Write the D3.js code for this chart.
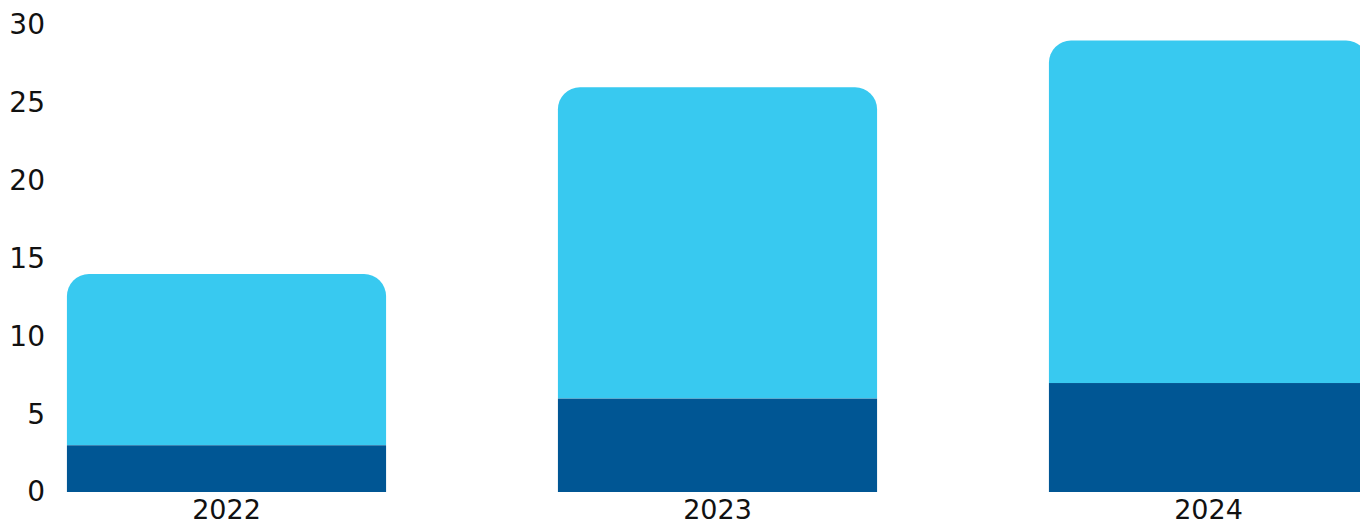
<!DOCTYPE html>
<html>
<head>
<meta charset="utf-8">
<script src="https://cdn.jsdelivr.net/npm/d3@7"></script>
<style>
  body { margin: 0; background: #fff; overflow: hidden; }
</style>
</head>
<body>
<div id="chart"></div>
<script>
// data
var years = ['2022', '2023', '2024'];
var darkValues = [3, 6, 7];
var lightValues = [11, 20, 22];
var yTicks = [0, 5, 10, 15, 20, 25, 30];

var width = 1360, height = 529;
var plotTop = 25, plotBottom = 492;
var radius = 22;

var svg = d3.select('#chart')
  .append('svg')
  .attr('width', width)
  .attr('height', height);

var yScale = d3.scaleLinear()
  .domain([0, 30])
  .range([plotBottom, plotTop]);

// bars run a bit past the right edge, like the original
var xScale = d3.scaleBand()
  .domain(years)
  .range([-19, 1454])
  .paddingInner(0.35)
  .paddingOuter(0.175);

var rows = years.map(function(yr, i) {
  return { year: yr, dark: darkValues[i], light: lightValues[i] };
});

// rect with round top corners
function roundTop(x0, y0, w, h, r) {
  return 'M' + x0 + ',' + (y0 + h) +
    'V' + (y0 + r) +
    'A' + r + ',' + r + ' 0 0 1 ' + (x0 + r) + ',' + y0 +
    'H' + (x0 + w - r) +
    'A' + r + ',' + r + ' 0 0 1 ' + (x0 + w) + ',' + (y0 + r) +
    'V' + (y0 + h) + 'Z';
}

svg.selectAll('path.light')
  .data(rows)
  .enter()
  .append('path')
  .attr('class', 'light')
  .attr('fill', '#38c9f0')
  .attr('d', function(d) {
    var y0 = yScale(d.dark + d.light), y1 = yScale(d.dark);
    return roundTop(xScale(d.year), y0, xScale.bandwidth(), y1 - y0, radius);
  });

svg.selectAll('rect.dark')
  .data(rows)
  .enter()
  .append('rect')
  .attr('class', 'dark')
  .attr('fill', '#005694')
  .attr('x', function(d) { return xScale(d.year); })
  .attr('width', xScale.bandwidth())
  .attr('y', function(d) { return yScale(d.dark); })
  .attr('height', function(d) { return plotBottom - yScale(d.dark); });

// y labels
var yAxis = svg.append('g')
  .attr('transform', 'translate(45,0)')
  .call(d3.axisLeft(yScale).tickValues(yTicks).tickSize(0).tickPadding(0));
yAxis.select('.domain').remove();
yAxis.selectAll('text')
  .style('font-family', '"DejaVu Sans", sans-serif')
  .style('font-size', '28px')
  .style('fill', '#111');

// x labels
var xAxis = svg.append('g')
  .attr('transform', 'translate(0,' + plotBottom + ')')
  .call(d3.axisBottom(xScale).tickSize(0).tickPadding(8));
xAxis.select('.domain').remove();
xAxis.selectAll('text')
  .style('font-family', '"DejaVu Sans", sans-serif')
  .style('font-size', '27px')
  .style('fill', '#111');
</script>
</body>
</html>
